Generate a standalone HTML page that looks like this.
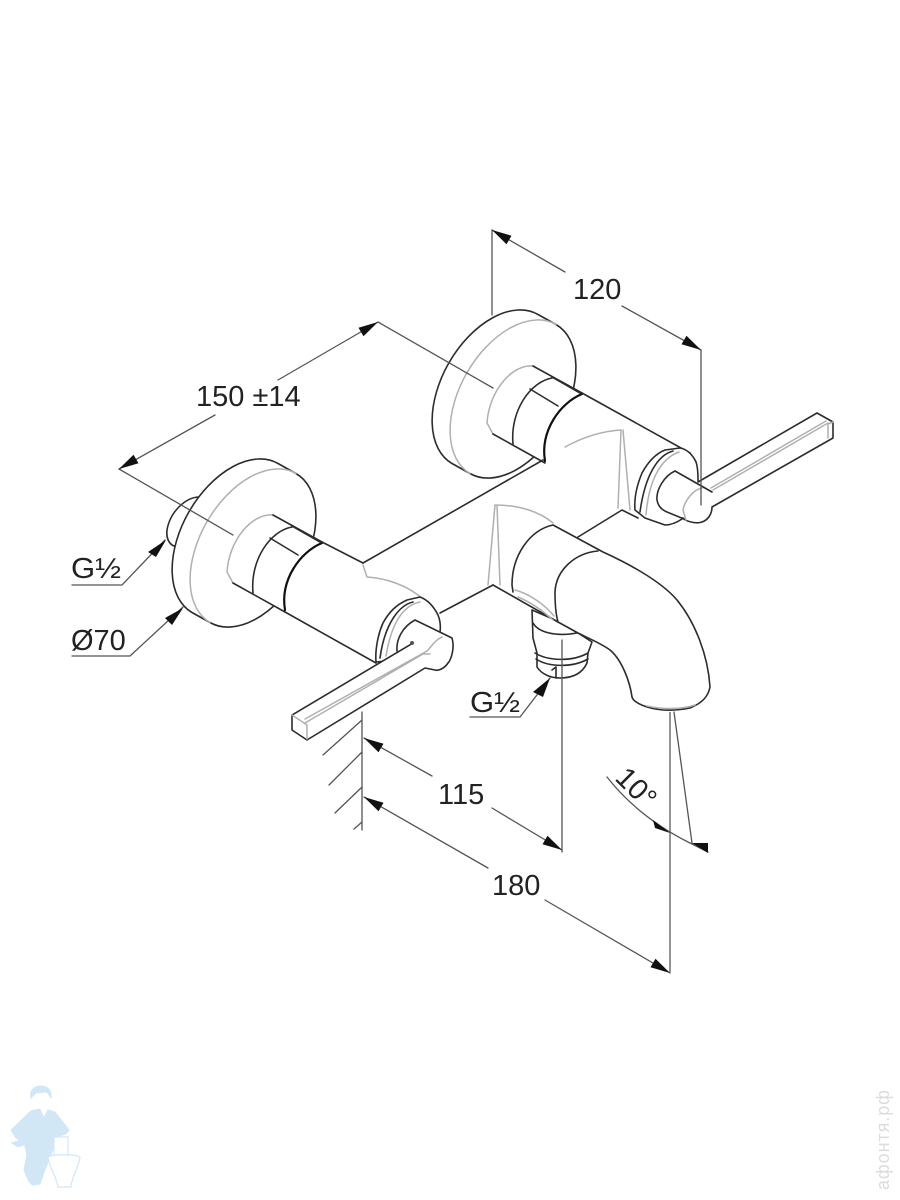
<!DOCTYPE html>
<html>
<head>
<meta charset="utf-8">
<style>
html,body{margin:0;padding:0;background:#fff}
svg{display:block;filter:blur(.35px)}
text{font-family:"Liberation Sans",sans-serif;fill:#222}
.d{fill:none;stroke:#2c2c2c;stroke-width:1.6;stroke-linecap:round;stroke-linejoin:round}
.f{fill:#fff;stroke:#2c2c2c;stroke-width:1.6;stroke-linejoin:round}
.w{fill:#fff;stroke:none}
.t{fill:none;stroke:#111;stroke-width:2.2;stroke-linecap:round}
.g{fill:none;stroke:#b0b0b0;stroke-width:1.5;stroke-linecap:round;stroke-linejoin:round}
.l{fill:none;stroke:#555;stroke-width:1.3;stroke-linecap:round}
.v{fill:none;stroke:#888;stroke-width:1.8}
</style>
</head>
<body>
<svg width="900" height="1200" viewBox="0 0 900 1200" xmlns="http://www.w3.org/2000/svg">
<defs>
<g id="valve">
  <path class="f" d="M278,463.5 A86 53 -60 0 0 192,612.5 L210,622.5 A86 53 -60 0 0 296,473.5 Z"/>
  <path class="g" d="M296,473.5 A86 53 -60 0 0 210,622.5"/>
  <path class="w" d="M273,515 C250,518 228,545 228,573 L233,583 L285,612 L330,640 L363,563 Z"/>
  <path class="g" d="M273,515 C252,513 229,540 227,572 L233,583"/>
  <path class="d" d="M273,515 L322,542"/>
  <path class="d" d="M233,583 L285,612"/>
  <path class="d" d="M292,527 C270,531 250,560 253,593"/>
  <path class="d" d="M270,538 L298,555"/>
  <path class="d" d="M292,526 L320,542"/>
  <path class="t" d="M322,543 C300,552 280,580 285,610"/>
</g>
</defs>

<!-- left stub -->
<path class="f" d="M198,497 C185,498 170,512 167,530 C166,538 169,544 174,546 L200,540 Z"/>

<!-- valves -->
<use href="#valve"/>
<use href="#valve" transform="translate(260,-149)"/>

<!-- body extension lines -->
<path class="d" d="M322,542 L363,563"/>
<path class="d" d="M285,612 L376,663"/>
<path class="d" d="M582,393 L690,453"/>

<!-- centre body lines -->
<path class="d" d="M363,563 L543,460"/>
<path class="g" d="M565,447 C585,436 605,431 621,430 M621,430 L618,508 M623,430 L630,510"/>
<path class="g" d="M363,565 L367,577 C385,578 408,585 424,600"/>
<path class="d" d="M440,613 L493,585"/>
<path class="d" d="M578,537 L622,510 L638,518"/>
<path class="g" d="M495,505 C520,505 540,512 553,523 M495,505 L488,585 M497,505 L500,585"/>

<!-- right ring -->
<path class="f" d="M698,480 C698,470 697,463 695,460 C691,453 686,449 680,448 L665,450 C655,454 648,462 642,473 C637,485 634,498 635,510 L645,518 L665,525 C670,525 676,523 682,519 L700,500 Z"/>
<path class="d" d="M673,451 C658,455 645,475 640,512"/>
<path class="g" d="M679,452 C662,458 649,478 646,515"/>

<!-- right lever -->
<path class="w" d="M675,471 L698,482 L817,413 L833,422 L833,438 L712,507 C712,516 707,522 700,522 L690,522 L680,515 L667,512 C660,509 656,505 657,500 C656,490 662,478 675,471 Z"/>
<path class="d" d="M675,471 C664,476 656,490 657,500 C658,506 662,510 667,512 L684,519"/>
<path class="d" d="M675,471 L712,492"/>
<path class="d" d="M698,482 L817,413 L833,422 L833,438 L712,507 C712,514 708,520 702,522 C696,524 688,522 682,518"/>
<path class="g" d="M828,423 L713,490 M826,421 L711,488 M833,422 L828,424 L828,438"/>
<path class="g" d="M702,488 C693,490 685,500 683,510 L686,520"/>

<!-- left ring -->
<path class="f" d="M440,632 C441,625 440,620 438,615 C434,607 428,600 420,597 L407,600 C396,605 389,612 383,623 C378,634 375,650 376,662 L398,660 Z"/>
<path class="d" d="M413,602 C400,605 385,622 380,658"/>
<path class="g" d="M420,602 C405,605 392,620 386,656"/>

<!-- left lever -->
<path class="w" d="M415,620 L452,638 C455,648 451,660 448,663 C444,669 438,671 435,670 L425,668 L307,740 L292,730 L292,715 L397,652 C396,640 402,627 415,620 Z"/>
<path class="d" d="M397,651 C396,640 402,627 415,620 L452,638 C455,648 451,660 448,663 C444,669 438,671 435,670 L425,668 L307,740 L292,730 L292,715 L413,643"/>
<path class="g" d="M305,719 L427,651 C432,646 435,640 442,637 M305,723 L423,654 L430,654"/>
<path class="g" d="M292,715 L307,725 L307,739"/>
<circle cx="412" cy="643" r="2" fill="#555"/>

<!-- connector -->
<path class="f" d="M532,610 L533,638 L537,653 L537,667 C542,675 552,678 560,678 C572,678 582,674 587,663 L588,653 L592,642 L578,633 L560,622 Z"/>
<path class="d" d="M533,623 C538,632 555,637 577,633"/>
<path class="d" d="M535,653 C548,661 572,662 588,653 M536,659 C548,667 572,668 588,659"/>
<path class="d" d="M552,670 L556,667 L556,678"/>

<!-- spout -->
<path class="w" d="M553,525 C530,530 512,555 512,585 L558,622 L578,633 L592,640 L598,552 Z"/>
<path class="w" d="M553,525 L603,552 C625,562 660,580 677,600 C695,622 708,655 710,687 C708,697 702,703 690,708 C675,711 660,711 647,707 C638,704 633,701 632,697 C630,682 622,660 610,650 C602,644 592,640 578,633 L558,622 Z"/>
<path class="d" d="M513,592 L512,585 C512,555 530,530 553,525 L603,552 C625,562 660,580 677,600 C695,622 708,655 710,687 C708,697 702,703 690,708 C675,711 660,711 647,707 C638,704 633,701 632,697 C630,682 622,660 610,650 C602,644 592,640 578,633 L558,622 L493,585"/>
<path class="d" d="M598,551 C575,553 556,570 555,592 C555,605 556,615 558,622"/>
<path class="g" d="M515,590 C530,594 545,605 554,616 M518,597 C530,602 542,610 553,620"/>
<path class="g" d="M647,706 C660,709 680,710 695,705"/>

<!-- wall -->
<path class="l" d="M362,712 L362,830"/>
<path class="l" d="M323,755 L362,720 M329,785 L362,752 M335,813 L362,787 M354,829 L362,822"/>

<!-- dimension lines -->
<path class="l" d="M492,230 L492,315"/>
<path class="l" d="M492,230 L565,272 M622,306 L701,350"/>
<path class="l" d="M701,350 L701,505"/>
<path class="l" d="M119,469 L215,415 M278,380 L378,322"/>
<path class="l" d="M378,322 L493,388"/>
<path class="l" d="M119,469 L233,535"/>
<path class="l" d="M72,585 L122,585 L165,540"/>
<path class="l" d="M72,656 L130,656 L183,607"/>
<path class="l" d="M470,717 L520,717 L550,678"/>
<path class="l" d="M364,738 L432,776 M492,808 L562,850"/>
<path class="l" d="M364,797 L488,868 M545,900 L670,973"/>
<path class="l" d="M562,640 L562,852"/>
<path class="v" d="M670,712 L670,973"/>
<path class="l" d="M674,712 L692,843"/>
<path class="l" d="M607,777 C625,800 650,823 690,843 L708,852"/>

<!-- arrowheads -->
<g fill="#111">
<polygon points="492,230 511.5,235.7 506.5,244.3"/>
<polygon points="701,350 686.5,335.7 681.5,344.3"/>
<polygon points="378,322 363.5,336.3 358.5,327.7"/>
<polygon points="119,469 138.5,463.3 133.5,454.7"/>
<polygon points="166,540 156,557 148,552"/>
<polygon points="183,608 165,618 172,625"/>
<polygon points="550,678 533,692 543,697"/>
<polygon points="364,738 383.5,743.7 378.5,752.3"/>
<polygon points="562,850 547.5,835.7 542.5,844.3"/>
<polygon points="364,797 383.5,802.7 378.5,811.3"/>
<polygon points="670,973 655.5,958.7 650.5,967.3"/>
<polygon points="670,833 653,820 655,828"/>
<polygon points="692,843 708,843 708,853"/>
</g>

<!-- labels -->
<text x="573" y="299" font-size="29">120</text>
<text x="196" y="406" font-size="29">150 ±14</text>
<text x="71" y="578" font-size="29" textLength="50" lengthAdjust="spacingAndGlyphs">G½</text>
<text x="71" y="650" font-size="29">Ø70</text>
<text x="470" y="712" font-size="29" textLength="50" lengthAdjust="spacingAndGlyphs">G½</text>
<text x="438" y="804" font-size="29">115</text>
<text x="492" y="895" font-size="29">180</text>
<text transform="translate(621,772) rotate(45)" x="0" y="10" font-size="29">10°</text>

<!-- watermark plumber -->
<g fill="#d2e7f6" stroke="#d2e7f6" stroke-width="1">
<path d="M31,1098 C29,1090 35,1086 41,1086 C48,1086 52,1091 51,1098 L47,1092 L36,1093 Z"/>
<path d="M31,1111 L40,1109 L44,1118 L48,1110 L55,1112 L69,1130 L66,1134 L56,1137 L54,1147 L49,1160 L44,1172 L40,1184 L32,1185 L28,1180 L24,1170 L27,1155 L24,1142 L16,1138 L11,1130 Z"/>
<path d="M12,1143 L36,1134 L40,1139 L18,1147 Z"/>
</g>
<path d="M36,1094 L47,1093 L48,1103 L42,1108 L36,1104 Z" fill="#fff"/>
<g fill="#fff" stroke="#d2e7f6" stroke-width="1.2">
<path d="M54,1137 L68,1137 L68,1155 L54,1155 Z"/>
<path d="M48,1157 C52,1154 75,1154 80,1157 C78,1170 72,1175 71,1187 L58,1187 C56,1175 50,1170 48,1157 Z"/>
</g>
<text transform="translate(889,1190) rotate(-90)" font-size="18" textLength="100" style="fill:#dcdcdc">афонтя.рф</text>
</svg>
</body>
</html>
